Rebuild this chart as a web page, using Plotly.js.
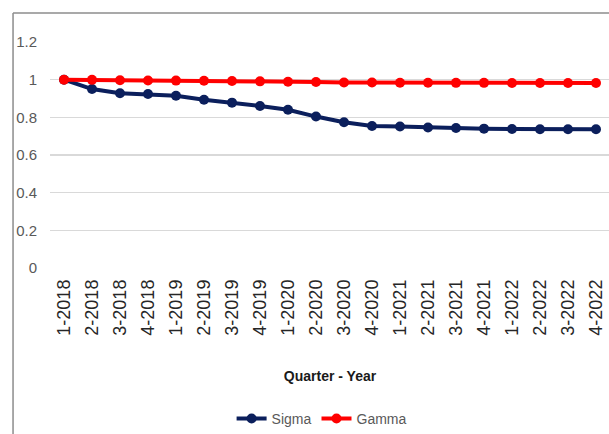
<!DOCTYPE html>
<html>
<head>
<meta charset="utf-8">
<script src="https://cdn.plot.ly/plotly-3.0.1.min.js"></script>
<style>
  html, body { margin: 0; padding: 0; background: #ffffff; overflow: hidden; }
  #chart { width: 612px; height: 434px; }
</style>
</head>
<body>
<div id="chart"></div>
<script>
// Quarter labels along the x axis
const quarters = [
  "1-2018", "2-2018", "3-2018", "4-2018",
  "1-2019", "2-2019", "3-2019", "4-2019",
  "1-2020", "2-2020", "3-2020", "4-2020",
  "1-2021", "2-2021", "3-2021", "4-2021",
  "1-2022", "2-2022", "3-2022", "4-2022"
];

// Sigma series
const sigma = [
  1.000, 0.950, 0.928, 0.924, 0.915, 0.893, 0.878, 0.860, 0.840, 0.804,
  0.774, 0.754, 0.751, 0.746, 0.743, 0.740, 0.738, 0.737, 0.737, 0.737
];

// Gamma series
const gamma = [
  1.000, 0.999, 0.997, 0.996, 0.995, 0.994, 0.993, 0.991, 0.989, 0.988,
  0.985, 0.985, 0.984, 0.984, 0.983, 0.983, 0.982, 0.982, 0.982, 0.982
];

const yTicks = [0, 0.2, 0.4, 0.6, 0.8, 1, 1.2];
const yTickText = ["0", "0.2", "0.4", "0.6", "0.8", "1", "1.2"];

const traces = [
  {
    x: quarters, y: sigma, name: "Sigma", type: "scatter", mode: "lines+markers",
    line: { color: "#0b1f5c", width: 4 },
    marker: { color: "#0b1f5c", size: 10, symbol: "circle" }
  },
  {
    x: quarters, y: gamma, name: "Gamma", type: "scatter", mode: "lines+markers",
    line: { color: "#ff0000", width: 4 },
    marker: { color: "#ff0000", size: 10, symbol: "circle" }
  }
];

const frameColor = "#8c8c8c";
const baseFont = "Liberation Sans, Arial, sans-serif";

const layout = {
  width: 612,
  height: 434,
  margin: { l: 50, r: 2, t: 42, b: 166, autoexpand: false },
  paper_bgcolor: "#ffffff",
  plot_bgcolor: "#ffffff",
  font: { family: baseFont, color: "#595959" },
  showlegend: true,
  legend: {
    orientation: "h",
    x: 0.485, xanchor: "center",
    y: -0.668, yanchor: "middle",
    font: { size: 14, color: "#595959", family: baseFont },
    itemwidth: 30,
    tracegroupgap: 0
  },
  xaxis: {
    type: "category",
    range: [-0.5, 19.5],
    tickangle: -90,
    showgrid: false,
    zeroline: false,
    showline: false,
    ticks: "",
    automargin: false,
    tickfont: { size: 18, color: "#262626", family: baseFont },
    ticklabelstandoff: 7,
    title: {
      text: "<b>Quarter - Year</b>",
      font: { size: 14, color: "#1a1a1a", family: baseFont },
      standoff: 36
    }
  },
  yaxis: {
    range: [0, 1.2],
    tickvals: yTicks,
    ticktext: yTickText,
    showgrid: true,
    gridcolor: "#d9d9d9",
    gridwidth: 1.3,
    zeroline: false,
    showline: false,
    ticks: "",
    automargin: false,
    ticklabelstandoff: 12,
    tickfont: { size: 15, color: "#595959", family: baseFont }
  },
  shapes: [
    // outer chart frame: left edge and top edge
    {
      type: "line", xref: "paper", yref: "paper",
      x0: -0.066, x1: -0.066, y0: -0.8, y1: 1.128,
      line: { color: frameColor, width: 1.5 }
    },
    {
      type: "line", xref: "paper", yref: "paper",
      x0: -0.066, x1: 1.05, y0: 1.128, y1: 1.128,
      line: { color: frameColor, width: 1.5 }
    }
  ]
};

Plotly.newPlot("chart", traces, layout, { displayModeBar: false, staticPlot: true });
</script>
</body>
</html>
